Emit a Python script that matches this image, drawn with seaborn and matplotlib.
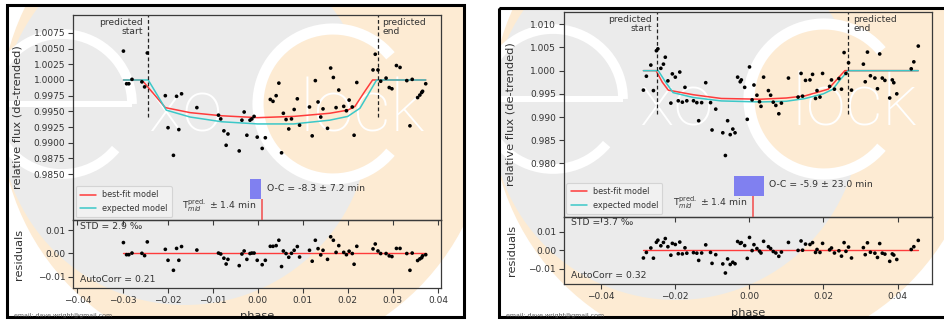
import numpy as np
import pandas as pd
import matplotlib
matplotlib.use("Agg")
import matplotlib.pyplot as plt
import matplotlib.transforms as mtransforms
from matplotlib.patches import Circle, Rectangle, Arc
from matplotlib.ticker import FuncFormatter, MultipleLocator, FixedLocator
import seaborn as sns

# ---------------- left observation ----------------
phase_a = [-0.0298, -0.0291, -0.0286, -0.0279, -0.0257, -0.0251, -0.0245, -0.0205, -0.0199, -0.0187,
           -0.0180, -0.0175, -0.0169, -0.0135, -0.0087, -0.0082, -0.0075, -0.0070, -0.0066, -0.0041,
           -0.0035, -0.0030, -0.0024, -0.0017, -0.0013, -0.0008, -0.0001, 0.0010, 0.0017, 0.0028,
           0.0034, 0.0041, 0.0047, 0.0053, 0.0057, 0.0063, 0.0069, 0.0075, 0.0081, 0.0088,
           0.0093, 0.0115, 0.0121, 0.0128, 0.0134, 0.0140, 0.0145, 0.0155, 0.0162, 0.0168,
           0.0174, 0.0180, 0.0191, 0.0197, 0.0203, 0.0210, 0.0214, 0.0220, 0.0256, 0.0261,
           0.0267, 0.0273, 0.0285, 0.0292, 0.0298, 0.0308, 0.0316, 0.0331, 0.0338, 0.0343,
           0.0355, 0.0360, 0.0364, 0.0366, 0.0373]
flux_a = [1.0046, 0.9994, 0.9994, 1.0001, 0.9997, 0.9989, 1.0043, 0.9975, 0.9924, 0.9880,
          0.9974, 0.9921, 0.9978, 0.9956, 0.9944, 0.9938, 0.9919, 0.9896, 0.9914, 0.9887,
          0.9936, 0.9949, 0.9912, 0.9936, 0.9938, 0.9942, 0.9909, 0.9891, 0.9908, 0.9969,
          0.9966, 0.9975, 0.9995, 0.9884, 0.9947, 0.9937, 0.9922, 0.9938, 0.9953, 0.9970,
          0.9928, 0.9957, 0.9911, 0.9999, 0.9965, 0.9941, 0.9954, 0.9923, 1.0019, 1.0004,
          0.9956, 0.9984, 0.9958, 0.9951, 0.9968, 0.9957, 0.9912, 0.9996, 1.0016, 1.0041,
          1.0016, 0.9998, 1.0003, 0.9988, 0.9986, 1.0023, 1.0020, 0.9999, 0.9927, 1.0001,
          0.9972, 0.9976, 0.9980, 0.9982, 0.9994]
resid_a = [0.0046, -0.0006, -0.0006, 0.0001, 0.0000, -0.0010, 0.0049, 0.0017, -0.0030, -0.0073,
           0.0021, -0.0030, 0.0029, 0.0014, 0.0001, -0.0003, -0.0021, -0.0046, -0.0026, -0.0053,
           -0.0003, 0.0010, -0.0026, -0.0001, 0.0001, 0.0001, -0.0030, -0.0049, -0.0030, 0.0030,
           0.0030, 0.0033, 0.0056, -0.0057, 0.0010, -0.0001, -0.0017, 0.0000, 0.0013, 0.0029,
           -0.0016, 0.0013, -0.0034, 0.0056, 0.0020, -0.0007, 0.0013, -0.0026, 0.0071, 0.0056,
           0.0004, 0.0033, 0.0004, -0.0006, 0.0009, -0.0001, -0.0047, 0.0030, 0.0019, 0.0040,
           0.0010, -0.0001, -0.0001, -0.0011, -0.0014, 0.0021, 0.0021, -0.0001, -0.0073, 0.0001,
           -0.0031, -0.0024, -0.0019, -0.0011, -0.0006]
best_phase_a = [-0.0298, -0.0257, -0.0231, -0.0205, -0.0150, -0.0080, 0.0000, 0.0080, 0.0160, 0.0200,
                0.0216, 0.0236, 0.0255, 0.0373]
best_flux_a = [1.0000, 1.0000, 0.9978, 0.9956, 0.9948, 0.9943, 0.9940, 0.9942, 0.9947, 0.9952,
               0.9958, 0.9980, 1.0000, 1.0000]
exp_phase_a = [-0.0298, -0.0243, -0.0222, -0.0203, -0.0150, -0.0080, 0.0000, 0.0080, 0.0160, 0.0200,
               0.0227, 0.0246, 0.0264, 0.0373]
exp_flux_a = [1.0000, 1.0000, 0.9975, 0.9952, 0.9941, 0.99335, 0.9930, 0.9930, 0.9936, 0.9942,
              0.9955, 0.9978, 1.0000, 1.0000]
yticks_a = [0.9850, 0.9875, 0.9900, 0.9925, 0.9950, 0.9975, 1.0000, 1.0025, 1.0050, 1.0075]
pred_start_a, pred_end_a = -0.0243, 0.0266
oc_min_a, oc_err_a = -8.3, 7.2
std_a, autocorr_a = 2.9, 0.21

# ---------------- right observation ----------------
phase_b = [-0.0285, -0.0277, -0.0265, -0.0258, -0.0250, -0.0246, -0.0238, -0.0231, -0.0226, -0.0219,
           -0.0211, -0.0207, -0.0199, -0.0191, -0.0187, -0.0180, -0.0173, -0.0168, -0.0150, -0.0141,
           -0.0136, -0.0128, -0.0117, -0.0104, -0.0100, -0.0090, -0.0071, -0.0064, -0.0058, -0.0051,
           -0.0044, -0.0038, -0.0031, -0.0024, -0.0021, -0.0012, -0.0005, 0.0001, 0.0008, 0.0013,
           0.0021, 0.0028, 0.0032, 0.0039, 0.0052, 0.0058, 0.0065, 0.0072, 0.0080, 0.0087,
           0.0106, 0.0132, 0.0140, 0.0144, 0.0152, 0.0164, 0.0171, 0.0179, 0.0183, 0.0191,
           0.0198, 0.0217, 0.0222, 0.0230, 0.0242, 0.0249, 0.0256, 0.0261, 0.0268, 0.0276,
           0.0308, 0.0313, 0.0319, 0.0327, 0.0339, 0.0346, 0.0352, 0.0359, 0.0366, 0.0379,
           0.0386, 0.0390, 0.0398, 0.0437, 0.0444, 0.0456]
flux_b = [0.9958, 0.9988, 1.0012, 0.9957, 1.0043, 1.0047, 1.0005, 1.0014, 1.0029, 0.9978,
          0.9930, 0.9993, 0.9986, 0.9935, 0.9997, 0.9932, 0.9964, 0.9935, 0.9935, 0.9931,
          0.9892, 0.9931, 0.9974, 0.9931, 0.9872, 0.9917, 0.9866, 0.9817, 0.9892, 0.9862,
          0.9874, 0.9866, 0.9986, 0.9976, 0.9980, 0.9964, 0.9895, 1.0008, 0.9937, 0.9969,
          0.9947, 0.9933, 0.9923, 0.9986, 0.9957, 0.9947, 0.9932, 0.9925, 0.9907, 0.9930,
          0.9984, 0.9943, 0.9994, 0.9945, 0.9979, 0.9980, 0.9992, 0.9940, 0.9957, 0.9943,
          0.9994, 0.9966, 0.9980, 0.9960, 0.9983, 0.9960, 1.0039, 0.9994, 1.0017, 0.9958,
          1.0014, 0.9976, 1.0040, 0.9989, 0.9984, 0.9961, 1.0036, 0.9984, 0.9979, 0.9941,
          0.9980, 0.9974, 0.9950, 1.0004, 1.0019, 1.0053]
resid_b = [-0.0042, -0.0012, 0.0012, -0.0043, 0.0043, 0.0054, 0.0024, 0.0042, 0.0063, 0.0019,
           -0.0027, 0.0037, 0.0031, -0.0019, 0.0044, -0.0020, 0.0013, -0.0016, -0.0013, -0.0016,
           -0.0055, -0.0015, 0.0029, -0.0012, -0.0071, -0.0024, -0.0074, -0.0123, -0.0047, -0.0077,
           -0.0065, -0.0073, 0.0047, 0.0037, 0.0041, 0.0025, -0.0044, 0.0069, -0.0002, 0.0030,
           0.0009, -0.0005, -0.0015, 0.0048, 0.0019, 0.0009, -0.0007, -0.0015, -0.0033, -0.0010,
           0.0042, -0.0001, 0.0050, 0.0000, 0.0033, 0.0031, 0.0041, -0.0012, 0.0004, -0.0012,
           0.0037, 0.0002, 0.0012, -0.0015, -0.0003, -0.0032, 0.0041, -0.0006, 0.0017, -0.0042,
           0.0014, -0.0024, 0.0040, -0.0011, -0.0016, -0.0039, 0.0036, -0.0016, -0.0021, -0.0060,
           -0.0020, -0.0026, -0.0050, 0.0004, 0.0019, 0.0053]
best_phase_b = [-0.0285, -0.0251, -0.0234, -0.0218, -0.0150, -0.0075, 0.0030, 0.0100, 0.0150, 0.0213,
                0.0231, 0.0258, 0.0456]
best_flux_b = [1.0000, 1.0000, 0.9975, 0.9958, 0.9948, 0.9940, 0.99384, 0.9941, 0.99455, 0.9960,
               0.9976, 1.0000, 1.0000]
exp_phase_b = [-0.0285, -0.0245, -0.0225, -0.0205, -0.0150, -0.0075, 0.0030, 0.0100, 0.0150, 0.0200,
               0.0226, 0.0245, 0.0267, 0.0456]
exp_flux_b = [1.0000, 1.0000, 0.9975, 0.99526, 0.9942, 0.99347, 0.99325, 0.9934, 0.99397, 0.9950,
              0.9960, 0.9980, 1.0000, 1.0000]
yticks_b = [0.980, 0.985, 0.990, 0.995, 1.000, 1.005, 1.010]
pred_start_b, pred_end_b = -0.0248, 0.0267
oc_min_b, oc_err_b = -5.9, 23.0
std_b, autocorr_b = 3.7, 0.32

# shared ephemeris numbers
period_days = 4.02
tmid_phase = 0.001
tmid_err_min = 1.4

RED = "#ff3b3b"
CYAN = "#3cc8c8"
DARK = "#3a3a3a"
TXT = "#333333"
GRAY_BG = "#ebebeb"
ORANGE = "#fdebd3"

sns.set_theme(style="white")
plt.rcParams["font.family"] = ["DejaVu Sans"]

fig = plt.figure(figsize=(9.44, 3.2), dpi=100)

# background layer in pixel coordinates (watermark)
bg = fig.add_axes([0, 0, 1, 1], zorder=-5)
bg.set_xlim(0, 944)
bg.set_ylim(320, 0)
bg.axis("off")


def draw_logo(ox, oy, clip_xy, clip_wh):
    clip = Rectangle(clip_xy, *clip_wh, transform=bg.transData)

    def add(p):
        bg.add_patch(p)
        p.set_clip_path(clip)

    add(Circle((ox + 245, oy + 115), 245, fc=ORANGE, ec="none"))
    add(Circle((ox + 185, oy + 120), 185, fc=GRAY_BG, ec="none"))
    # big "C": orange disc with white outline, open on the right
    add(Circle((ox + 333, oy + 104), 75, fc=ORANGE, ec="none"))
    add(Arc((ox + 333, oy + 104), 150, 150, theta1=40, theta2=320, color="white", lw=8))
    # big "e"
    add(Arc((ox + 62, oy + 104), 140, 140, theta1=40, theta2=360, color="white", lw=7))
    add(Rectangle((ox - 10, oy + 101), 142, 6, fc="white", ec="none"))
    for s, x in (("xo", ox + 148), ("lock", ox + 300)):
        t = bg.text(x, oy + 131, s, fontsize=52, color="white", va="baseline", ha="left",
                    fontweight="light", family=["Roboto", "Lato", "DejaVu Sans"])
        t.set_clip_path(clip)


draw_logo(0, 0, (6.5, 5), (457, 312))
draw_logo(491, -5, (499, 7.5), (460, 309.5))

fmt = lambda d: FuncFormatter(lambda v, p: f"{v:.{d}f}".replace("-", "\u2212"))


def style(a):
    a.set_facecolor("none")
    for s in a.spines.values():
        s.set_color(DARK)
        s.set_linewidth(0.9)
    a.tick_params(direction="out", length=3.5, width=0.8, color=DARK, labelsize=6.5,
                  labelcolor=TXT, pad=2, left=True, bottom=True)


def draw_panel(main_box, res_box, phase, flux, resid, bx, by, ex, ey, yticks, start, end,
               oc_min, oc_err, std, ac, xlim, ylim, rlim, ydec, xstep, ylab_x, xlab_y):
    ax = fig.add_axes(main_box)
    rx = fig.add_axes(res_box)
    style(ax)
    style(rx)

    sns.scatterplot(x=phase, y=flux, color="black", s=7, edgecolor="none", ax=ax, legend=False, zorder=4)
    sns.lineplot(x=bx, y=by, color=RED, lw=1.1, sort=False, estimator=None, ax=ax, label="best-fit model")
    sns.lineplot(x=ex, y=ey, color=CYAN, lw=1.1, sort=False, estimator=None, ax=ax, label="expected model")

    for v in (start, end):
        ax.axvline(v, ymin=0.5, ymax=1, color="#222222", ls=(0, (3, 2)), lw=0.9)
    ax.annotate("predicted\nstart", xy=(start, 1), xycoords=("data", "axes fraction"), xytext=(-3.5, -2.5),
                textcoords="offset points", ha="right", va="top", fontsize=6.6, color=TXT,
                multialignment="right", linespacing=1.0)
    ax.annotate("predicted\nend", xy=(end, 1), xycoords=("data", "axes fraction"), xytext=(3.5, -2.5),
                textcoords="offset points", ha="left", va="top", fontsize=6.6, color=TXT,
                multialignment="left", linespacing=1.0)

    # O-C box and predicted mid-time marker
    scale = period_days * 1440.0
    trans = mtransforms.blended_transform_factory(ax.transData, ax.transAxes)
    oc_c = tmid_phase + oc_min / scale
    oc_w = oc_err / scale
    ax.add_patch(Rectangle((oc_c - oc_w, 0.1), 2 * oc_w, 0.1, transform=trans, fc="#8080f0", ec="none", zorder=5))
    tw = max(tmid_err_min / scale, 0.00022)
    ax.add_patch(Rectangle((tmid_phase - tw, 0.0), 2 * tw, 0.1, transform=trans, fc="#f07070", ec="none", zorder=5))
    ax.annotate(f"O-C = {oc_min} \u00b1 {oc_err} min", xy=(oc_c + oc_w, 0.155), xycoords=trans,
                xytext=(4, 0), textcoords="offset points", ha="left", va="center", fontsize=6.7, color=TXT)
    ax.annotate(r"T$^{\rm pred.}_{mid}$ $\pm$ " + f"{tmid_err_min} min", xy=(tmid_phase - tw, 0.068),
                xycoords=trans, xytext=(-3.5, 0), textcoords="offset points", ha="right", va="center",
                fontsize=6.7, color=TXT)

    leg = ax.legend(loc="lower left", fontsize=5.8, handlelength=2.0, borderaxespad=0.35,
                    frameon=True, framealpha=0.75, edgecolor="#cccccc", facecolor="#f4f4f4",
                    labelcolor=TXT, borderpad=0.5, labelspacing=0.6)
    leg.get_frame().set_linewidth(0.8)

    ax.set_xlim(xlim)
    ax.set_ylim(ylim)
    ax.xaxis.set_major_locator(MultipleLocator(xstep))
    ax.yaxis.set_major_locator(FixedLocator(yticks))
    ax.yaxis.set_major_formatter(fmt(ydec))
    ax.tick_params(labelbottom=False)
    ax.set_ylabel("relative flux (de-trended)", fontsize=8.2, color=TXT)
    ax.yaxis.set_label_coords(ylab_x, 0.5)
    ax.set_xlabel("")

    # residuals
    sns.scatterplot(x=phase, y=resid, color="black", s=7, edgecolor="none", ax=rx, legend=False, zorder=4)
    sns.lineplot(x=[phase[0], phase[-1]], y=[0, 0], color=RED, lw=1.0, ax=rx, estimator=None)
    rx.set_xlim(xlim)
    rx.set_ylim(rlim)
    rx.xaxis.set_major_locator(MultipleLocator(xstep))
    rx.yaxis.set_major_locator(MultipleLocator(0.01))
    rx.xaxis.set_major_formatter(fmt(2))
    rx.yaxis.set_major_formatter(fmt(2))
    rx.set_ylabel("residuals", fontsize=8.2, color=TXT)
    rx.yaxis.set_label_coords(ylab_x + 0.005, 0.5)
    rx.set_xlabel("phase", fontsize=8.2, color=TXT)
    rx.xaxis.set_label_coords(0.5, xlab_y)
    rx.text(0.02, 0.91, f"STD = {std} \u2030", transform=rx.transAxes, fontsize=6.7, color=TXT, va="center")
    rx.text(0.02, 0.13, f"AutoCorr = {ac}", transform=rx.transAxes, fontsize=6.7, color=TXT, va="center")


draw_panel([0.0773, 0.3125, 0.3899, 0.6416], [0.0773, 0.1000, 0.3899, 0.2125],
           phase_a, flux_a, resid_a, best_phase_a, best_flux_a, exp_phase_a, exp_flux_a, yticks_a,
           pred_start_a, pred_end_a, oc_min_a, oc_err_a, std_a, autocorr_a,
           (-0.0410, 0.0407), (0.9777, 1.0104), (-0.0149, 0.0143), 4, 0.01, -0.137, -0.34)
draw_panel([0.5971, 0.3228, 0.3898, 0.6397], [0.5971, 0.1116, 0.3898, 0.2112],
           phase_b, flux_b, resid_b, best_phase_b, best_flux_b, exp_phase_b, exp_flux_b, yticks_b,
           pred_start_b, pred_end_b, oc_min_b, oc_err_b, std_b, autocorr_b,
           (-0.0500, 0.0492), (0.9685, 1.01265), (-0.0184, 0.0181), 3, 0.02, -0.132, -0.355)

# frames around the two screenshots
top = fig.add_axes([0, 0, 1, 1], zorder=20)
top.set_xlim(0, 944)
top.set_ylim(320, 0)
top.axis("off")
top.patch.set_alpha(0)
top.add_patch(Rectangle((0, 317.5), 944, 5, fc="white", ec="none"))
top.add_patch(Rectangle((6.5, 5), 457, 312, fill=False, ec="black", lw=2.2))
top.add_patch(Rectangle((499, 7.5), 460, 309.5, fill=False, ec="black", lw=2.2))
for x in (14, 506):
    t = top.text(x, 318.5, "email: dave.wright@gmail.com", fontsize=4.5, color="#555555", va="bottom")
    t.set_clip_path(Rectangle((0, 0), 944, 316.5, transform=top.transData))

fig.savefig("out.png", dpi=100)
